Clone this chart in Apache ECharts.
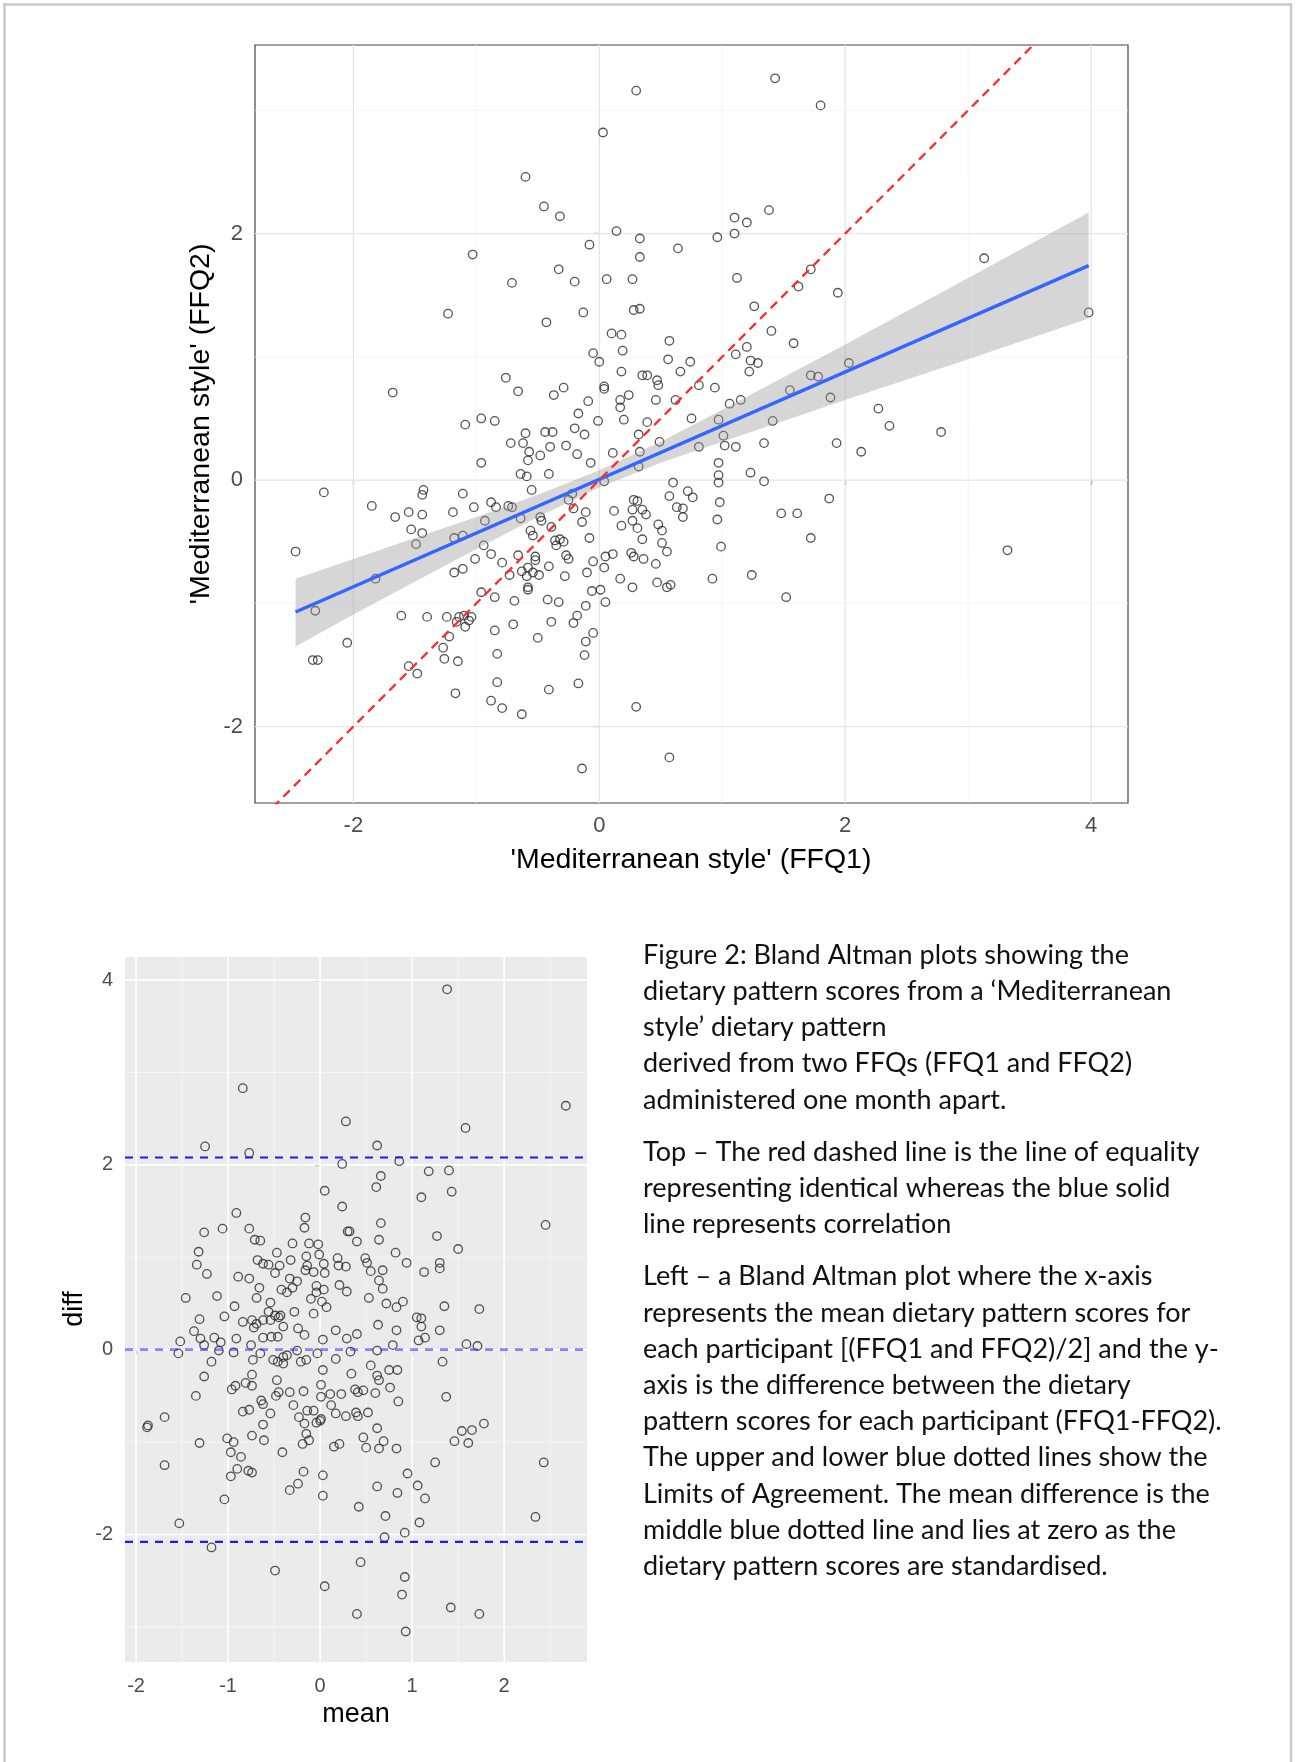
<!DOCTYPE html>
<html>
<head>
<meta charset="utf-8">
<title>Figure 2 - Bland Altman</title>
<script src="https://cdn.jsdelivr.net/npm/echarts@6/dist/echarts.min.js"></script>
<style>
    html, body{
        margin: 0;
        padding: 0;
        background: #fff;
    }
    #main{
        width: 1298px;
        height: 1762px;
    }
</style>
</head>
<body>
<div id="main"></div>
<script>
    // top panel: 'Mediterranean style' scores, [FFQ1, FFQ2]
    var ffqPoints = [
        [0.30,3.16],[0.03,2.82],[-0.60,2.46],[-0.45,2.22],[-0.32,2.14],[0.14,2.02],[0.33,1.96],[0.33,1.81],[-1.03,1.83],[-0.08,1.91],
        [-0.33,1.71],[-0.20,1.61],[0.06,1.63],[0.27,1.63],[-0.71,1.60],[-1.23,1.35],[-0.43,1.28],[-0.13,1.36],[0.28,1.38],[0.33,1.39],
        [0.10,1.19],[0.18,1.18],[0.19,1.05],[-0.05,1.03],[0.00,0.96],[0.18,0.88],[0.35,0.85],[0.39,0.85],[0.47,0.81],[-0.76,0.83],
        [-0.66,0.72],[-1.68,0.71],[-0.29,0.75],[-0.37,0.69],[0.04,0.76],[0.04,0.74],[0.24,0.69],[0.17,0.65],[0.17,0.59],[-0.09,0.64],
        [0.46,0.65],[-0.17,0.54],[-0.01,0.48],[0.20,0.49],[0.39,0.47],[-1.09,0.45],[-0.96,0.50],[-0.85,0.48],[-0.20,0.42],[-0.12,0.37],
        [-0.60,0.38],[-0.44,0.39],[-0.38,0.39],[-0.72,0.30],[-0.62,0.30],[-0.40,0.27],[-0.27,0.28],[0.32,0.37],
        [1.43,3.26],[1.80,3.04],[1.38,2.19],[1.10,2.13],[1.20,2.09],[0.96,1.97],[1.10,2.00],[0.64,1.88],[3.13,1.80],[1.72,1.71],
        [1.62,1.57],[1.94,1.52],[1.12,1.64],[1.26,1.41],[1.40,1.21],[1.58,1.11],[0.57,1.13],[0.56,0.98],[0.74,0.96],[0.66,0.88],
        [1.20,1.08],[1.11,1.02],[1.23,0.97],[1.29,0.95],[1.22,0.88],[2.03,0.95],[3.98,1.36],[0.48,0.77],[0.81,0.77],[0.94,0.75],
        [0.62,0.65],[1.06,0.62],[1.15,0.65],[1.72,0.85],[1.78,0.84],[1.55,0.73],[1.88,0.67],[2.27,0.58],[2.36,0.44],[2.78,0.39],
        [0.75,0.50],[0.97,0.49],[1.41,0.48],[0.49,0.31],[1.01,0.36],[0.81,0.27],[1.02,0.28],[1.11,0.27],[1.34,0.30],[1.93,0.30],[2.13,0.23],
        [0.97,0.14],[0.97,0.04],[0.97,-0.02],[0.60,-0.02],[1.23,0.06],[1.34,-0.01],[0.57,-0.13],[0.72,-0.09],[0.76,-0.14],[0.98,-0.18],
        [1.87,-0.15],[0.63,-0.22],[0.68,-0.23],[0.68,-0.30],[0.38,-0.28],[0.96,-0.32],[1.48,-0.27],[1.61,-0.27],[0.48,-0.36],[0.51,-0.41],
        [0.35,-0.48],[0.51,-0.51],[0.55,-0.58],[0.99,-0.54],[1.72,-0.47],[0.36,-0.64],[0.46,-0.68],[3.32,-0.57],[0.92,-0.80],[1.24,-0.77],
        [0.47,-0.83],[0.55,-0.87],[0.58,-0.85],[1.52,-0.95],[0.57,-2.25],
        [-0.57,0.23],[-0.58,0.16],[-0.48,0.20],[-0.18,0.21],[-0.07,0.14],[0.11,0.22],[0.33,0.23],[0.32,0.11],[-0.96,0.14],[-0.64,0.05],
        [-0.59,0.03],[-0.41,0.05],[-0.55,-0.08],[-2.24,-0.10],[-1.43,-0.08],[-1.44,-0.12],[-1.11,-0.11],[-0.88,-0.18],[-0.84,-0.22],[-0.74,-0.21],
        [-0.71,-0.22],[-1.02,-0.22],[-1.19,-0.26],[-1.44,-0.28],[-1.55,-0.26],[-1.66,-0.30],[-1.85,-0.21],[-1.53,-0.40],[-1.44,-0.43],[-1.49,-0.52],
        [-2.47,-0.58],[-0.93,-0.33],[-0.64,-0.31],[-0.48,-0.30],[-0.47,-0.33],[-0.39,-0.38],[-0.56,-0.41],[-0.54,-0.45],[-0.25,-0.16],[-0.21,-0.23],
        [-0.22,-0.11],[-0.11,-0.26],[-0.14,-0.34],[0.12,-0.25],[0.28,-0.16],[0.31,-0.17],[0.27,-0.24],[0.35,-0.24],[0.18,-0.37],[0.27,-0.33],
        [0.31,-0.39],[-0.08,-0.47],[-0.36,-0.49],[-0.32,-0.48],[-0.29,-0.50],[-0.35,-0.53],[-0.94,-0.53],[-0.88,-0.60],[-0.66,-0.61],[-0.52,-0.62],
        [-0.52,-0.65],[-0.27,-0.61],[-0.25,-0.64],[-0.41,-0.70],[-0.05,-0.66],[0.05,-0.62],[0.04,-0.71],[0.11,-0.60],[0.26,-0.59],[0.28,-0.62],
        [-1.01,-0.64],[-0.79,-0.67],[-0.63,-0.74],[-0.58,-0.71],[-0.59,-0.78],[-0.49,-0.77],[-0.54,-0.75],[-0.28,-0.78],[-0.10,-0.75],[-0.73,-0.77],
        [-1.18,-0.75],[-1.11,-0.72],[-1.82,-0.80],[-0.58,-0.87],[-0.58,-0.89],[-0.06,-0.90],[0.01,-0.89],[0.17,-0.80],[0.27,-0.87],[0.05,-0.99],
        [-0.96,-0.91],[-0.85,-0.95],[-0.69,-0.98],[-0.42,-0.97],[-0.33,-0.99],[-0.11,-1.02],[-0.18,-1.10],[-0.21,-1.16],[-1.61,-1.10],[-1.40,-1.11],
        [-1.24,-1.11],[-1.14,-1.11],[-1.10,-1.10],[-1.04,-1.11],[-1.06,-1.14],[-1.16,-1.15],[-1.09,-1.19],[-1.22,-1.27],[-1.27,-1.36],[-1.26,-1.45],
        [-1.15,-1.47],[-0.70,-1.17],[-0.85,-1.22],[-0.39,-1.15],[-0.50,-1.28],[-0.05,-1.24],[-0.11,-1.31],[-0.12,-1.42],[-0.83,-1.41],[-1.55,-1.51],
        [-1.48,-1.57],[-2.05,-1.32],[-2.31,-1.06],[-2.33,-1.46],[-2.29,-1.46],[-0.83,-1.64],[-0.17,-1.65],[-0.41,-1.70],[-1.17,-1.73],[-0.88,-1.79],
        [-0.79,-1.85],[-0.63,-1.90],[0.30,-1.84],[-0.14,-2.34],[-1.11,-0.45],[-1.18,-0.47],[0.04,-0.01]
    ];
    // linear fit (blue) and its confidence band
    var fitX = [-2.47, 3.98];
    var fitY = [-1.07, 1.74];
    var bandX = [-2.47, -2, -1, -0.5, 0, 0.5, 1, 2, 3, 3.98];
    var bandLow = [-1.35, -1.09, -0.56, -0.30, -0.06, 0.14, 0.31, 0.65, 0.98, 1.31];
    var bandHigh = [-0.80, -0.64, -0.30, -0.12, 0.08, 0.31, 0.57, 1.10, 1.64, 2.17];
    var equalityRange = [-3, 5];

    // bottom panel: Bland Altman, [mean, diff]
    var baPoints = [
        [-0.84,2.83],[-1.25,2.20],[-0.77,2.13],[0.28,2.47],[0.24,2.01],[0.05,1.72],[0.24,1.55],[-0.91,1.48],[-1.26,1.27],[-1.06,1.31],
        [-0.77,1.31],[-0.71,1.19],[-0.65,1.18],[-0.16,1.43],[-0.17,1.32],[0.30,1.28],[-1.32,1.06],[-1.34,0.92],[-1.23,0.82],[-0.47,1.05],
        [-0.30,1.15],[-0.12,1.15],[-0.02,1.14],[-0.68,0.97],[-0.62,0.93],[-0.56,0.92],[-0.44,0.91],[-0.32,0.97],[-0.15,1.01],[-0.14,0.91],
        [-0.01,1.03],[0.04,0.93],[0.05,0.83],[0.19,0.99],[0.20,0.91],[0.28,0.90],[-0.16,0.86],[-0.07,0.84],[-0.89,0.79],[-0.77,0.77],
        [-0.49,0.83],[-0.33,0.77],[-0.25,0.74],[0.21,0.70],[-0.66,0.67],[-0.69,0.56],[-0.42,0.65],[-0.36,0.62],[-0.30,0.67],[-0.04,0.69],
        [-0.04,0.62],[0.04,0.65],[0.29,0.63],[-1.46,0.56],[-1.12,0.58],[-0.93,0.47],[-0.10,0.55],[0.02,0.52],[0.07,0.46],[-0.54,0.51],
        [-0.56,0.41],[-0.49,0.37],[-0.43,0.37],[-0.28,0.41],[-0.07,0.39],[-1.31,0.33],[-1.04,0.36],[-0.84,0.30],[-0.74,0.32],[-0.69,0.28],
        [-0.62,0.32],[-0.72,0.24],[-0.54,0.32],[-0.45,0.35],[-0.40,0.25],[-0.46,0.14],[-0.53,0.14],[-0.62,0.13],[-1.37,0.20],[-1.30,0.12],
        [-1.52,0.09],[-1.15,0.13],[-1.08,0.08],[-1.26,0.05],[-0.91,0.12],[-0.24,0.23],[-0.17,0.16],[0.17,0.21],[0.29,0.12],[0.03,0.11],
        [-0.75,0.05],
        [-1.54,-0.04],[-1.10,-0.01],[-0.94,-0.03],[-0.65,-0.04],[-1.18,-0.13],[-0.73,-0.11],[-1.26,-0.29],[-1.35,-0.50],[-0.96,-0.43],[-0.92,-0.39],
        [-0.81,-0.36],[-0.74,-0.39],[-0.74,-0.27],[-0.47,-0.33],[-0.51,-0.11],[-0.46,-0.13],[-0.40,-0.15],[-0.40,-0.08],[-0.36,-0.06],[-0.25,-0.01],
        [-0.21,-0.13],[-0.15,-0.11],[-0.33,-0.46],[-0.18,-0.45],[-0.64,-0.55],[-0.62,-0.59],[-0.54,-0.69],[-0.48,-0.50],[-0.45,-0.46],[-0.84,-0.67],
        [-0.77,-0.65],[-0.62,-0.81],[-0.29,-0.60],[-0.23,-0.73],[-0.14,-0.66],[-0.07,-0.66],[-0.17,-0.80],[-0.04,-0.79],[-0.03,-0.04],[0.03,-0.22],
        [0.01,-0.38],[0.01,-0.51],[0.11,-0.48],[0.17,-0.10],[0.01,-0.75],[0.17,-0.69],[0.28,-0.72],[0.23,-0.48],[0.21,-1.02],[0.15,-1.05],
        [-1.88,-0.84],[-1.87,-0.82],[-1.69,-0.73],[-1.69,-1.25],[-1.31,-1.01],[-1.01,-0.96],[-0.94,-1.00],[-0.97,-1.11],[-0.86,-1.16],[-0.97,-1.37],
        [-0.90,-1.29],[-0.78,-1.31],[-0.74,-1.33],[-0.74,-0.93],[-0.61,-0.98],[-0.41,-1.11],[-0.19,-1.02],[-0.12,-0.98],[-0.15,-0.91],[-0.18,-1.32],
        [-0.33,-1.52],[-0.24,-1.45],[0.03,-1.36],[0.03,-1.58],[-1.04,-1.62],[-1.53,-1.88],[-1.18,-2.14],[-0.49,-2.39],[0.05,-2.56],
        [1.38,3.90],[2.67,2.64],[1.58,2.40],[0.62,2.21],[0.86,2.04],[1.18,1.93],[1.40,1.94],[0.66,1.88],[0.61,1.76],[1.10,1.65],
        [1.43,1.71],[0.32,1.28],[0.40,1.17],[0.66,1.37],[0.64,1.19],[2.45,1.35],[1.27,1.23],[1.50,1.09],[0.82,1.05],[0.94,0.94],
        [0.49,0.99],[0.51,0.94],[0.55,0.85],[0.68,0.86],[1.13,0.84],[1.30,0.94],[1.30,0.88],[0.64,0.75],[0.68,0.66],[0.53,0.56],
        [0.72,0.50],[0.83,0.46],[0.90,0.52],[1.35,0.47],[1.73,0.44],[1.05,0.35],[1.10,0.34],[1.10,0.25],[0.63,0.27],[0.83,0.21],
        [0.40,0.17],[0.33,-0.02],[1.30,0.21],[1.07,0.10],[1.14,0.13],[0.79,0.05],[0.62,-0.01],[1.59,0.06],[1.71,0.04],
        [1.33,-0.13],[0.55,-0.17],[0.75,-0.22],[0.84,-0.22],[0.34,-0.26],[0.62,-0.28],[0.64,-0.33],[0.85,-0.56],[1.37,-0.51],[0.38,-0.43],
        [0.41,-0.46],[0.47,-0.44],[0.60,-0.47],[0.76,-0.41],[0.12,-0.60],[0.39,-0.68],[0.41,-0.72],[0.52,-0.68],[0.00,-0.77],[0.62,-0.85],
        [0.47,-0.95],[0.50,-1.06],[0.69,-0.99],[0.64,-1.07],[0.83,-1.07],[1.46,-0.99],[1.54,-0.88],[1.65,-0.87],[1.61,-1.01],[1.78,-0.80],
        [1.25,-1.22],[2.43,-1.22],[0.95,-1.34],[0.62,-1.48],[1.06,-1.47],[1.14,-1.61],[0.84,-1.55],[0.42,-1.70],[0.71,-1.80],[1.08,-1.87],
        [2.34,-1.81],[0.92,-1.98],[0.70,-2.03],[0.44,-2.30],[0.92,-2.46],[0.89,-2.65],[1.42,-2.79],[1.73,-2.86],[0.40,-2.86],[0.93,-3.05]
    ];
    // mean difference and limits of agreement
    var meanDiff = 0;
    var limits = [-2.08, 2.08];

    // tick and grid values
    var topXTicks = [-2, 0, 2, 4];
    var topXMinor = [-1, 1, 3];
    var topYTicks = [-2, 0, 2];
    var topYMinor = [-1, 1, 3];
    var baXTicks = [-2, -1, 0, 1, 2];
    var baXMinor = [-1.5, -0.5, 0.5, 1.5, 2.5];
    var baYTicks = [-2, 0, 2, 4];
    var baYMinor = [-3, -1, 1, 3];

    var caption = [
        ['Figure 2: Bland Altman plots showing the',
         'dietary pattern scores from a \u2018Mediterranean',
         'style\u2019 dietary pattern',
         'derived from two FFQs (FFQ1 and FFQ2)',
         'administered one month apart.'],
        ['Top \u2013 The red dashed line is the line of equality',
         'representing identical whereas the blue solid',
         'line represents correlation'],
        ['Left \u2013 a Bland Altman plot where the x-axis',
         'represents the mean dietary pattern scores for',
         'each participant [(FFQ1 and FFQ2)/2] and the y-',
         'axis is the difference between the dietary',
         'pattern scores for each participant (FFQ1-FFQ2).',
         'The upper and lower blue dotted lines show the',
         'Limits of Agreement. The mean difference is the',
         'middle blue dotted line and lies at zero as the',
         'dietary pattern scores are standardised.']
    ];

    var AX_FONT = 'Liberation Sans';

    // vertical / horizontal rules spanning the whole panel
    function vRule(color, width, dash) {
        return function (params, api) {
            var p = api.coord([api.value(0), 0]);
            var cs = params.coordSys;
            return {
                type: 'line', silent: true,
                shape: {x1: p[0], y1: cs.y, x2: p[0], y2: cs.y + cs.height},
                style: {stroke: color, lineWidth: width, lineDash: dash || null}
            };
        };
    }
    function hRule(color, width, dash) {
        return function (params, api) {
            var p = api.coord([0, api.value(1)]);
            var cs = params.coordSys;
            return {
                type: 'line', silent: true,
                shape: {x1: cs.x, y1: p[1], x2: cs.x + cs.width, y2: p[1]},
                style: {stroke: color, lineWidth: width, lineDash: dash || null}
            };
        };
    }
    function rules(idx, vals, vertical, render, z) {
        return {
            type: 'custom', xAxisIndex: idx, yAxisIndex: idx, z: z, silent: true,
            data: vals.map(function (v) { return vertical ? [v, 0] : [0, v]; }),
            renderItem: render
        };
    }

    function valueAxis(idx, min, max, ticks, fontSize, margin) {
        return {
            type: 'value', gridIndex: idx, min: min, max: max,
            splitLine: {show: false},
            axisLine: {show: false},
            axisTick: {show: true, length: 5, customValues: ticks, lineStyle: {color: '#333', width: 1.2}},
            axisLabel: {customValues: ticks, margin: margin, fontSize: fontSize, color: '#4d4d4d', fontFamily: AX_FONT}
        };
    }

    var circleStyle = {color: 'transparent', borderColor: '#2a2a2a', borderWidth: 1.3};

    // caption as graphic text
    var graphics = [];
    var cy = 955;
    caption.forEach(function (para, pi) {
        if (pi > 0) cy += 16;
        para.forEach(function (line) {
            graphics.push({
                type: 'text', x: 643, y: cy,
                style: {text: line, fontFamily: 'Lato', fontSize: 27, fill: '#111', verticalAlign: 'middle'}
            });
            cy += 36.2;
        });
    });
    // axis titles
    graphics.push(
        {type: 'text', x: 691, y: 860, style: {text: "'Mediterranean style' (FFQ1)", fontFamily: AX_FONT, fontSize: 28.5, fill: '#000', align: 'center', verticalAlign: 'middle'}},
        {type: 'text', x: 201, y: 424, rotation: Math.PI / 2, style: {text: "'Mediterranean style' (FFQ2)", fontFamily: AX_FONT, fontSize: 28.5, fill: '#000', align: 'center', verticalAlign: 'middle'}},
        {type: 'text', x: 356, y: 1715, style: {text: 'mean', fontFamily: AX_FONT, fontSize: 27, fill: '#000', align: 'center', verticalAlign: 'middle'}},
        {type: 'text', x: 75, y: 1309, rotation: Math.PI / 2, style: {text: 'diff', fontFamily: AX_FONT, fontSize: 27, fill: '#000', align: 'center', verticalAlign: 'middle'}}
    );
    // page frame
    graphics.push(
        {type: 'line', shape: {x1: 4.5, y1: 3, x2: 4.5, y2: 1762}, style: {stroke: '#c8c8c8', lineWidth: 2.5}},
        {type: 'line', shape: {x1: 3, y1: 4.5, x2: 1292, y2: 4.5}, style: {stroke: '#c8c8c8', lineWidth: 2.5}},
        {type: 'line', shape: {x1: 1291, y1: 3, x2: 1291, y2: 1762}, style: {stroke: '#c8c8c8', lineWidth: 2.5}}
    );

    var option = {
        backgroundColor: '#fff',
        animation: false,
        graphic: graphics,
        grid: [
            {left: 255, top: 45, width: 873, height: 758, show: true, backgroundColor: '#fff', borderColor: '#444', borderWidth: 1.2},
            {left: 125, top: 957, width: 462, height: 705, show: true, backgroundColor: '#ebebeb', borderWidth: 0}
        ],
        xAxis: [
            valueAxis(0, -2.80, 4.30, topXTicks, 22, 12),
            valueAxis(1, -2.12, 2.90, baXTicks, 20, 14)
        ],
        yAxis: [
            valueAxis(0, -2.62, 3.53, topYTicks, 22, 12),
            valueAxis(1, -3.38, 4.25, baYTicks, 20, 12)
        ],
        series: [
            // top panel grid
            rules(0, topXMinor, true, vRule('#f2f2f2', 0.8), 1),
            rules(0, topYMinor, false, hRule('#f2f2f2', 0.8), 1),
            rules(0, topXTicks, true, vRule('#e6e6e6', 1.3), 1),
            rules(0, topYTicks, false, hRule('#e6e6e6', 1.3), 1),
            {
                type: 'scatter', xAxisIndex: 0, yAxisIndex: 0, z: 2,
                symbol: 'circle', symbolSize: 8.5, itemStyle: circleStyle,
                data: ffqPoints
            },
            {
                // confidence band of the linear fit
                type: 'custom', xAxisIndex: 0, yAxisIndex: 0, z: 3, silent: true,
                data: [[0, 0]],
                renderItem: function (params, api) {
                    var pts = [];
                    for (var i = 0; i < bandX.length; i++) pts.push(api.coord([bandX[i], bandHigh[i]]));
                    for (var j = bandX.length - 1; j >= 0; j--) pts.push(api.coord([bandX[j], bandLow[j]]));
                    return {type: 'polygon', shape: {points: pts}, style: {fill: 'rgba(153,153,153,0.4)'}};
                }
            },
            {
                type: 'line', xAxisIndex: 0, yAxisIndex: 0, z: 4, symbol: 'none', silent: true,
                lineStyle: {color: '#3366ff', width: 3.4},
                data: fitX.map(function (x, i) { return [x, fitY[i]]; })
            },
            {
                type: 'line', xAxisIndex: 0, yAxisIndex: 0, z: 5, symbol: 'none', silent: true, clip: true,
                lineStyle: {color: '#ff2a2a', width: 2.3, type: [9, 6]},
                data: equalityRange.map(function (v) { return [v, v]; })
            },

            // bottom panel grid
            rules(1, baXMinor, true, vRule('#f7f7f7', 0.8), 1),
            rules(1, baYMinor, false, hRule('#f7f7f7', 0.8), 1),
            rules(1, baXTicks, true, vRule('#ffffff', 1.6), 1),
            rules(1, baYTicks, false, hRule('#ffffff', 1.6), 1),
            {
                type: 'scatter', xAxisIndex: 1, yAxisIndex: 1, z: 2,
                symbol: 'circle', symbolSize: 8.5, itemStyle: circleStyle,
                data: baPoints
            },
            rules(1, limits, false, hRule('#1a1aff', 2.2, [8, 7]), 3),
            rules(1, [meanDiff], false, hRule('rgba(40,40,255,0.55)', 2.8, [8, 7]), 3)
        ]
    };

    var myChart = echarts.init(document.getElementById('main'), null, {renderer: 'canvas'});
    myChart.setOption(option);
</script>
</body>
</html>
